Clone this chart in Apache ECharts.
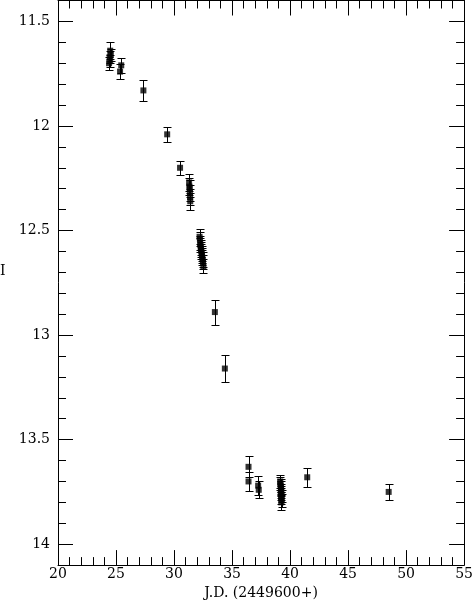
<!DOCTYPE html>
<html>
<head>
<meta charset="utf-8">
<script src="https://cdn.jsdelivr.net/npm/echarts@6/dist/echarts.min.js"></script>
<style>
html,body{margin:0;padding:0;background:#fff;}
#chart{width:476px;height:605px;}
</style>
</head>
<body>
<div id="chart"></div>
<script>
// Julian date offset (2449600+), I magnitude, error
const jd = [
  24.40, 24.45, 24.50, 24.55, 24.50,
  25.35, 25.45,
  27.36,
  29.41,
  30.52,
  31.30, 31.33, 31.35, 31.37, 31.38, 31.40,
  32.20, 32.23, 32.26, 32.28, 32.30, 32.33, 32.36, 32.38, 32.41, 32.44, 32.47, 32.50, 32.53,
  33.52,
  34.38,
  36.42, 36.42,
  37.25, 37.30,
  39.15, 39.17, 39.19, 39.21, 39.23, 39.25, 39.20, 39.27, 39.22, 39.29, 39.24,
  41.48,
  48.50
];
const mag = [
  11.70, 11.67, 11.64, 11.66, 11.69,
  11.74, 11.71,
  11.83,
  12.04,
  12.20,
  12.27, 12.29, 12.30, 12.32, 12.34, 12.36,
  12.53, 12.54, 12.56, 12.57, 12.58, 12.59, 12.60, 12.61, 12.62, 12.63, 12.64, 12.65, 12.67,
  12.89,
  13.16,
  13.63, 13.70,
  13.72, 13.74,
  13.70, 13.71, 13.72, 13.73, 13.74, 13.75, 13.76, 13.77, 13.78, 13.79, 13.80,
  13.68,
  13.75
];
const err = [
  0.03, 0.03, 0.04, 0.03, 0.03,
  0.035, 0.035,
  0.05,
  0.035,
  0.033,
  0.04, 0.04, 0.04, 0.04, 0.04, 0.04,
  0.035, 0.035, 0.035, 0.035, 0.035, 0.035, 0.035, 0.035, 0.035, 0.035, 0.035, 0.035, 0.035,
  0.06,
  0.065,
  0.05, 0.045,
  0.045, 0.04,
  0.03, 0.03, 0.03, 0.03, 0.03, 0.03, 0.03, 0.03, 0.03, 0.03, 0.035,
  0.045,
  0.04
];
const xTicks = [20, 25, 30, 35, 40, 45, 50, 55];
const yTickLabels = ['11.5', '12', '12.5', '13', '13.5', '14'];

const FONT = 'DejaVu Serif';
const points = jd.map((x, i) => [x, mag[i], err[i]]);

const yMin = 11.4, yMax = 14.1;
const baseY = {
  type: 'value', inverse: true, min: yMin, max: yMax,
  splitLine: {show: false}, axisLine: {show: false}
};
function yMinorAxis(pos, labels) {
  return Object.assign({}, baseY, {
    position: pos, interval: 0.1,
    axisLine: {show: true, onZero: false, lineStyle: {color: '#000', width: 1}},
    axisTick: {show: true, inside: true, length: 8, lineStyle: {color: '#000', width: 1}},
    axisLabel: labels ? {
      show: true, margin: 8, color: '#000', fontFamily: FONT, fontSize: 14,
      showMinLabel: false, showMaxLabel: false,
      formatter: v => {
        const s = String(+v.toFixed(2));
        return yTickLabels.indexOf(s) >= 0 ? s : '';
      }
    } : {show: false}
  });
}
function yMajorAxis(pos) {
  return Object.assign({}, baseY, {
    position: pos, splitNumber: 5,
    axisTick: {show: true, inside: true, length: 15, lineStyle: {color: '#000', width: 1}},
    axisLabel: {show: false}
  });
}
function xAxisDef(pos, labels) {
  return {
    type: 'value', position: pos, min: 20, max: 55, interval: 5,
    splitLine: {show: false},
    axisLine: {show: true, onZero: false, lineStyle: {color: '#000', width: 1}},
    axisTick: {show: true, inside: true, length: 15, lineStyle: {color: '#000', width: 1}},
    minorTick: {show: true, splitNumber: 5, length: 8, lineStyle: {color: '#000', width: 1}},
    axisLabel: labels ? {
      show: true, margin: 2, color: '#000', fontFamily: FONT, fontSize: 14,
      formatter: v => xTicks.indexOf(v) >= 0 ? String(v) : ''
    } : {show: false},
    name: labels ? 'J.D. (2449600+)' : '',
    nameLocation: 'middle', nameGap: 13,
    nameTextStyle: {color: '#000', fontFamily: FONT, fontSize: 14}
  };
}

const chart = echarts.init(document.getElementById('chart'), null, {renderer: 'canvas'});
chart.setOption({
  animation: false,
  backgroundColor: '#fff',
  grid: {left: 58, right: 9, top: 0.5, bottom: 37, containLabel: false},
  xAxis: [xAxisDef('bottom', true), xAxisDef('top', false)],
  yAxis: [yMinorAxis('left', true), yMajorAxis('left'), yMinorAxis('right', false), yMajorAxis('right')],
  graphic: [{
    type: 'text', left: 0, top: 264,
    style: {text: 'I', fill: '#000', font: '14px "' + FONT + '"'}
  }],
  series: [
    {
      type: 'custom', xAxisIndex: 0, yAxisIndex: 0,
      data: points,
      renderItem: function (params, api) {
        const x = api.value(0), y = api.value(1), e = api.value(2);
        const t = api.coord([x, y - e]);
        const b = api.coord([x, y + e]);
        const cx = Math.round(t[0]) + 0.5;
        const ty = Math.round(t[1]) + 0.5;
        const by = Math.round(b[1]) + 0.5;
        const w = 4;
        const st = {stroke: '#000', lineWidth: 1};
        return {
          type: 'group',
          children: [
            {type: 'line', shape: {x1: cx, y1: ty, x2: cx, y2: by}, style: st},
            {type: 'line', shape: {x1: cx - w, y1: ty, x2: cx + w, y2: ty}, style: st},
            {type: 'line', shape: {x1: cx - w, y1: by, x2: cx + w, y2: by}, style: st}
          ]
        };
      },
      encode: {x: 0, y: 1},
      z: 2
    },
    {
      type: 'scatter', xAxisIndex: 0, yAxisIndex: 0,
      data: points.map(p => [p[0], p[1]]),
      symbol: 'rect', symbolSize: 6,
      itemStyle: {color: '#000'},
      z: 3
    }
  ]
});
</script>
</body>
</html>
